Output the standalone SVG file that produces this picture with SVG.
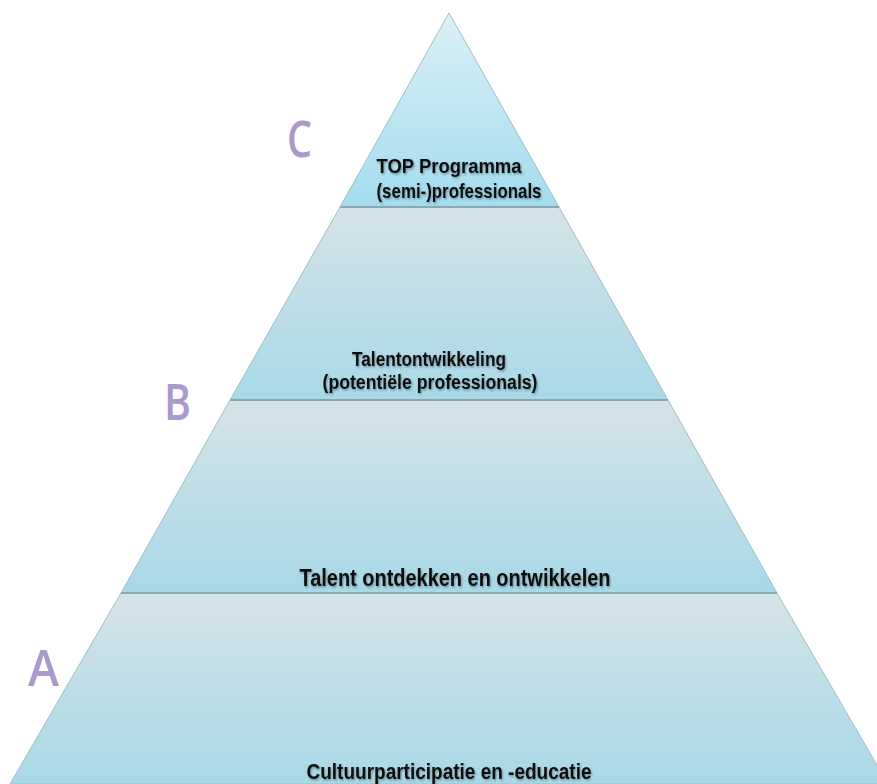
<svg xmlns="http://www.w3.org/2000/svg" width="877" height="784" viewBox="0 0 877 784">
<defs>
<linearGradient id="gTop" x1="0" y1="0" x2="0" y2="1">
<stop offset="0" stop-color="#dbf0f6"/>
<stop offset="1" stop-color="#a3dcee"/>
</linearGradient>
<linearGradient id="gBand" x1="0" y1="0" x2="0" y2="1">
<stop offset="0" stop-color="#d5e3e8"/>
<stop offset="1" stop-color="#a8d9e7"/>
</linearGradient>
<filter id="sh" x="-10%" y="-30%" width="120%" height="160%">
<feDropShadow dx="1" dy="1.5" stdDeviation="1" flood-color="#000" flood-opacity="0.35"/>
</filter>
</defs>
<style>
.band{stroke:#a3bcc4;stroke-width:1}
.sep{stroke:#8aa8b1;stroke-width:2}
.t{font-family:"Liberation Sans",Arial,sans-serif;font-weight:bold;font-size:22px;fill:#111;text-anchor:middle}
.lvl{font-family:"Open Sans","Liberation Sans",sans-serif;font-weight:600;font-size:50px;fill:#a99acb}
</style>
<rect width="877" height="784" fill="#ffffff"/>
<g id="level-a">
<polygon class="band" points="121,593 777,593 888,784 10,784" fill="url(#gBand)"/>
<text class="t" x="449" y="779" textLength="285" lengthAdjust="spacingAndGlyphs" filter="url(#sh)">Cultuurparticipatie en -educatie</text>
<text class="lvl" x="28" y="686" textLength="31" lengthAdjust="spacingAndGlyphs">A</text>
</g>
<g id="level-b-lower">
<polygon class="band" points="230,400 668,400 777,593 121,593" fill="url(#gBand)"/>
<line class="sep" x1="121" y1="593" x2="777" y2="593"/>
<text class="t" x="455" y="586" style="font-size:24px" textLength="311" lengthAdjust="spacingAndGlyphs" filter="url(#sh)">Talent ontdekken en ontwikkelen</text>
</g>
<g id="level-b-upper">
<polygon class="band" points="340,207 559,207 668,400 230,400" fill="url(#gBand)"/>
<line class="sep" x1="230" y1="400" x2="668" y2="400"/>
<text class="t" x="429" y="366" style="font-size:20px" textLength="154" lengthAdjust="spacingAndGlyphs" filter="url(#sh)">Talentontwikkeling</text>
<text class="t" x="430" y="389" style="font-size:20px" textLength="215" lengthAdjust="spacingAndGlyphs" filter="url(#sh)">(potentiële professionals)</text>
<text class="lvl" x="164" y="420" textLength="27" lengthAdjust="spacingAndGlyphs">B</text>
</g>
<g id="level-c">
<polygon class="band" points="449,13 559,207 340,207" fill="url(#gTop)"/>
<line class="sep" x1="340" y1="207" x2="559" y2="207"/>
<text class="t" x="449" y="173" style="font-size:21px" textLength="145" lengthAdjust="spacingAndGlyphs" filter="url(#sh)">TOP Programma</text>
<text class="t" x="459" y="198" style="font-size:21px" textLength="165" lengthAdjust="spacingAndGlyphs" filter="url(#sh)">(semi-)professionals</text>
<text class="lvl" x="287" y="157" textLength="25" lengthAdjust="spacingAndGlyphs">C</text>
</g>
<g id="connectors"></g>
</svg>
